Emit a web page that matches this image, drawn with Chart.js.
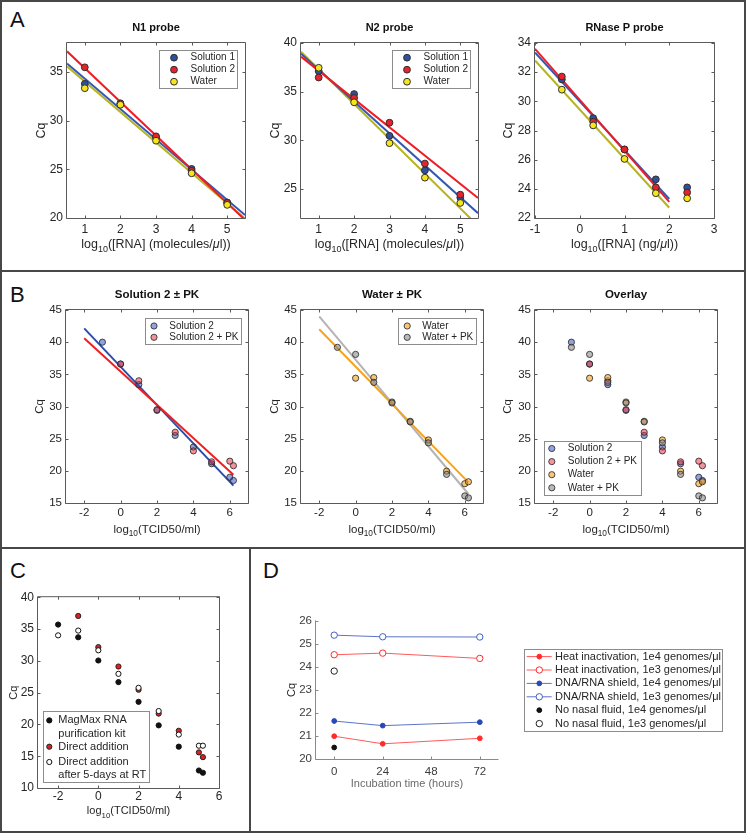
<!DOCTYPE html>
<html>
<head>
<meta charset="utf-8">
<title>Cq standard curves</title>
<script src="https://cdn.jsdelivr.net/npm/chart.js@4.4.1/dist/chart.umd.min.js"></script>
<style>
  body { margin: 0; background: #fff; }
  #fig { position: relative; width: 749px; height: 834px; overflow: hidden; background: #fff; }
  #fig canvas { position: absolute; }
  .rule { position: absolute; background: #474747; }
  .tag { position: absolute; font: 22px "Liberation Sans", Arial, sans-serif; color: #111; line-height: 1; }
</style>
</head>
<body>
<div id="fig">
  <div class="rule" style="left:0;top:0;width:746px;height:2px"></div>
  <div class="rule" style="left:0;top:0;width:2px;height:833px"></div>
  <div class="rule" style="left:744px;top:0;width:2px;height:833px"></div>
  <div class="rule" style="left:0;top:831px;width:746px;height:2px"></div>
  <div class="rule" style="left:0;top:270px;width:746px;height:2px"></div>
  <div class="rule" style="left:0;top:547px;width:746px;height:2px"></div>
  <div class="rule" style="left:249px;top:547px;width:2px;height:286px"></div>
  <div class="tag" style="left:10px;top:9px">A</div>
  <div class="tag" style="left:10px;top:284px">B</div>
  <div class="tag" style="left:10px;top:560px">C</div>
  <div class="tag" style="left:263px;top:560px">D</div>
</div>
<script>
const FONT = '"Liberation Sans", Arial, Helvetica, sans-serif';

// ---- Panel A: standard curves ----
const aX = [1, 2, 3, 4, 5];
const aTicksX = [1, 2, 3, 4, 5];
const n1TicksY = [20, 25, 30, 35];
const n1Sol1 = [33.8, 31.8, 28.3, 25.05, 21.6];
const n1Sol2 = [35.5, 31.75, 28.4, 24.85, 21.55];
const n1Water = [33.35, 31.65, 27.95, 24.6, 21.35];
const n2TicksY = [25, 30, 35, 40];
const n2Sol1 = [37.1, 34.75, 30.45, 26.9, 24.1];
const n2Sol2 = [36.45, 34.35, 31.8, 27.6, 24.4];
const n2Water = [37.45, 33.9, 29.7, 26.15, 23.55];
const rnpX = [-0.4, 0.3, 1, 1.7, 2.4];
const rnpTicksX = [-1, 0, 1, 2, 3];
const rnpTicksY = [22, 24, 26, 28, 30, 32, 34];
const rnpSol1 = [31.5, 28.85, 26.7, 24.65, 24.1];
const rnpSol2 = [31.7, 28.6, 26.7, 24.1, 23.75];
const rnpWater = [30.8, 28.35, 26.05, 23.7, 23.35];
// fitted lines, read at their two ends
const aFitX = [0.5, 5.5];
const n1FitSol1 = [35.9, 20.3];
const n1FitSol2 = [37.15, 19.8];
const n1FitWater = [35.6, 19.95];
const n2FitSol1 = [38.9, 22.5];
const n2FitSol2 = [38.6, 24.05];
const n2FitWater = [39.1, 21.2];
const rnpFitX = [-1, 2];
const rnpFitSol1 = [33.35, 23.3];
const rnpFitSol2 = [33.6, 23.1];
const rnpFitWater = [32.8, 22.7];

// ---- Panel B: proteinase K ----
const bX = [-1, 0, 1, 2, 3, 4, 5, 6, 6.2];
const bTicksX = [-2, 0, 2, 4, 6];
const bTicksY = [15, 20, 25, 30, 35, 40, 45];
const sol2 = [40.0, 36.6, 33.4, 29.4, 25.5, 23.7, 21.1, 19.0, 18.5];
const sol2PK = [null, 36.6, 34.0, 29.5, 26.0, 23.1, 21.4, 21.5, 20.8];
const water = [null, 34.4, 34.5, 30.7, 27.7, 24.8, 19.95, 18.0, 18.3];
const waterPK = [39.2, 38.1, 33.75, 30.55, 27.6, 24.35, 19.45, 16.1, 15.8];
const bFitX = [-2, 6.2];
const sol2Fit = [42.15, 17.7];
const sol2PKFit = [40.6, 19.4];
const waterFit = [42.0, 18.2];
const waterPKFit = [44.0, 16.4];

// ---- Panel C: extraction vs direct addition ----
const cX = [-2, -1, 0, 1, 2, 3, 4, 5, 5.2];
const cTicksX = [-2, 0, 2, 4, 6];
const cTicksY = [10, 15, 20, 25, 30, 35, 40];
const magmax = [35.7, 33.7, 30.05, 26.65, 23.55, 19.85, 16.5, 12.75, 12.4];
const direct = [null, 37.05, 32.15, 29.1, 25.45, 21.7, 19.0, 15.6, 14.85];
const direct5d = [34.0, 34.75, 31.65, 27.95, 25.75, 22.1, 18.4, 16.65, 16.65];

// ---- Panel D: incubation time ----
const dX = [0, 24, 72];
const dX0 = [0];
const dTicksX = [0, 24, 48, 72];
const dTicksY = [20, 21, 22, 23, 24, 25, 26];
const heat1e4 = [20.99, 20.66, 20.9];
const heat1e3 = [24.53, 24.6, 24.37];
const shield1e4 = [21.65, 21.45, 21.6];
const shield1e3 = [25.38, 25.31, 25.3];
const noNasal1e4 = [20.5];
const noNasal1e3 = [23.82];

const fig = document.getElementById('fig');

function pts(xs, ys) {
    return xs.map((x, i) => ({ x: x, y: ys[i] })).filter(p => p.y !== null);
}

function dots(label, xs, ys, fill, edge, r) {
    return {
        label: label, data: pts(xs, ys), showLine: false,
        backgroundColor: fill, borderColor: edge,
        pointBackgroundColor: fill, pointBorderColor: edge,
        pointRadius: r, pointBorderWidth: 1, pointHoverRadius: r
    };
}

function fit(xs, ys, color) {
    return {
        label: '', data: pts(xs, ys), showLine: true, borderColor: color,
        borderWidth: 2, pointRadius: 0, pointHoverRadius: 0, fill: false
    };
}

function series(label, xs, ys, color, fill, r, lineColor) {
    return {
        label: label, data: pts(xs, ys), showLine: !!lineColor,
        borderColor: lineColor || color, borderWidth: 1,
        pointBackgroundColor: fill, pointBorderColor: color,
        pointRadius: r, pointBorderWidth: 1, pointHoverRadius: r
    };
}

function marker(ctx, x, y, r, fill, edge, bw) {
    ctx.beginPath();
    ctx.arc(x, y, r, 0, Math.PI * 2);
    if (fill) { ctx.fillStyle = fill; ctx.fill(); }
    if (edge && bw) { ctx.lineWidth = bw; ctx.strokeStyle = edge; ctx.stroke(); }
}

// text in pieces: 'n' normal, 's' subscript, 'i' italic
function drawParts(ctx, parts, cx, cy, size, color) {
    const fontFor = st => (st === 'i' ? 'italic ' : '') + (st === 's' ? size * 0.72 : size) + 'px ' + FONT;
    let total = 0;
    parts.forEach(p => { ctx.font = fontFor(p[1]); total += ctx.measureText(p[0]).width; });
    let x = cx - total / 2;
    ctx.textAlign = 'left';
    ctx.textBaseline = 'middle';
    ctx.fillStyle = color;
    parts.forEach(p => {
        ctx.font = fontFor(p[1]);
        ctx.fillText(p[0], x, cy + (p[1] === 's' ? size * 0.4 : 0));
        x += ctx.measureText(p[0]).width;
    });
}

function drawLegend(chart, lg) {
    const ctx = chart.ctx, ca = chart.chartArea;
    const bx = lg.right !== undefined ? ca.right - lg.right - lg.w : ca.left + lg.left;
    const by = lg.bottom !== undefined ? ca.bottom - lg.bottom - lg.h : ca.top + lg.top;
    ctx.fillStyle = '#fff';
    ctx.fillRect(bx, by, lg.w, lg.h);
    ctx.strokeStyle = '#8c8c8c';
    ctx.lineWidth = 1;
    ctx.strokeRect(Math.round(bx) + 0.5, Math.round(by) + 0.5, Math.round(lg.w), Math.round(lg.h));
    lg.items.forEach((it, i) => {
        const ds = chart.data.datasets.find(d => d.label === it.label);
        const y = by + (it.dy !== undefined ? it.dy : lg.first + i * lg.pitch);
        if (it.line) {
            ctx.strokeStyle = ds.borderColor;
            ctx.lineWidth = ds.borderWidth;
            ctx.beginPath();
            ctx.moveTo(bx + lg.lx0, y);
            ctx.lineTo(bx + lg.lx1, y);
            ctx.stroke();
        }
        marker(ctx, bx + lg.mx, y, ds.pointRadius, ds.pointBackgroundColor, ds.pointBorderColor, ds.pointBorderWidth);
        ctx.font = lg.font + 'px ' + FONT;
        ctx.textAlign = 'left';
        ctx.textBaseline = 'middle';
        ctx.fillStyle = '#262626';
        [].concat(it.text || it.label).forEach((t, k) => ctx.fillText(t, bx + lg.tx, y + k * (it.lh || 0)));
    });
}

function decoPlugin(cfg) {
    return {
        id: 'deco',
        afterDraw(chart) {
            const ctx = chart.ctx, ca = chart.chartArea;
            const sx = chart.scales.x, sy = chart.scales.y;
            const L = ca.left - 0.5, R = ca.right + 0.5, T = ca.top - 0.5, B = ca.bottom + 0.5;
            const tl = 3;
            ctx.save();
            ctx.strokeStyle = cfg.axisColor || '#5a5a5a';
            ctx.lineWidth = 1;
            ctx.beginPath();
            if (cfg.box) {
                ctx.rect(L, T, R - L, B - T);
            } else {
                ctx.moveTo(L, T); ctx.lineTo(L, B); ctx.lineTo(R, B);
            }
            cfg.x.ticks.forEach(v => {
                const p = Math.round(sx.getPixelForValue(v)) + 0.5;
                ctx.moveTo(p, B); ctx.lineTo(p, B - tl);
                if (cfg.box) { ctx.moveTo(p, T); ctx.lineTo(p, T + tl); }
            });
            cfg.y.ticks.forEach(v => {
                const p = Math.round(sy.getPixelForValue(v)) + 0.5;
                ctx.moveTo(L, p); ctx.lineTo(L + tl, p);
                if (cfg.box) { ctx.moveTo(R, p); ctx.lineTo(R - tl, p); }
            });
            ctx.stroke();

            if (cfg.title) {
                ctx.font = 'bold ' + cfg.titleSize + 'px ' + FONT;
                ctx.fillStyle = '#111';
                ctx.textAlign = 'center';
                ctx.textBaseline = 'middle';
                ctx.fillText(cfg.title, (ca.left + ca.right) / 2, ca.top - cfg.titleDy);
            }
            drawParts(ctx, cfg.xTitle, (ca.left + ca.right) / 2, ca.bottom + cfg.xTitleDy, cfg.labelSize, cfg.xTitleColor || '#262626');
            ctx.save();
            ctx.translate(ca.left - cfg.yTitleDx, (ca.top + ca.bottom) / 2);
            ctx.rotate(-Math.PI / 2);
            drawParts(ctx, [['Cq', 'n']], 0, 0, cfg.labelSize, '#262626');
            ctx.restore();
            if (cfg.legend) drawLegend(chart, cfg.legend);
            ctx.restore();
        }
    };
}

function axis(a, size, which) {
    return {
        type: 'linear', min: a.min, max: a.max,
        grid: { display: false, drawTicks: false },
        border: { display: false },
        ticks: {
            font: { family: FONT, size: a.font }, color: a.color || '#262626',
            padding: a.pad, autoSkip: false, maxRotation: 0, minRotation: 0,
            callback: v => String(v)
        },
        afterBuildTicks: s => { s.ticks = a.ticks.map(v => ({ value: v })); },
        afterFit: s => { if (which === 'x') s.height = size; else s.width = size; }
    };
}

// area = [left, top, right, bottom] of the plotting box on the page
function makePlot(area, cfg) {
    const pad = Object.assign({ l: 40, t: 30, r: 12, b: 45 }, cfg.pad || {});
    const w = area[2] - area[0], h = area[3] - area[1];
    const cv = document.createElement('canvas');
    cv.width = w + pad.l + pad.r;
    cv.height = h + pad.t + pad.b;
    cv.style.left = (area[0] - pad.l) + 'px';
    cv.style.top = (area[1] - pad.t) + 'px';
    cv.style.width = cv.width + 'px';
    cv.style.height = cv.height + 'px';
    fig.appendChild(cv);
    // datasets are listed bottom first
    const n = cfg.datasets.length;
    const datasets = cfg.datasets.map((d, i) => Object.assign({ order: n - i }, d));
    new Chart(cv.getContext('2d'), {
        type: 'scatter',
        data: { datasets: datasets },
        options: {
            responsive: false,
            animation: false,
            events: [],
            layout: { autoPadding: false, padding: { top: pad.t, right: pad.r, left: 0, bottom: 0 } },
            plugins: { legend: { display: false }, tooltip: { enabled: false } },
            scales: { x: axis(cfg.x, pad.b, 'x'), y: axis(cfg.y, pad.l, 'y') }
        },
        plugins: [decoPlugin(cfg)]
    });
}

const EDGE = '#2e2e2e';
const A_BLUE = '#2f4f9f', A_RED = '#e8222b', A_YEL = '#f6e619';
const A_BLUE_LN = '#3358b4', A_RED_LN = '#ee1c25', A_OLIVE_LN = '#b7b322';
const A_R = 3.4, B_R = 3.1;
const xLabelMol = [['log', 'n'], ['10', 's'], ['([RNA] (molecules/', 'n'], ['\u03bc', 'i'], ['l))', 'n']];
const xLabelNg = [['log', 'n'], ['10', 's'], ['([RNA] (ng/', 'n'], ['\u03bc', 'i'], ['l))', 'n']];
const xLabelTcid = [['log', 'n'], ['10', 's'], ['(TCID50/ml)', 'n']];

const aLegend = {
    right: 8, top: 7, w: 78, h: 38, first: 7.7, pitch: 12, mx: 15, tx: 31.5, font: 10,
    items: [{ label: 'Solution 1' }, { label: 'Solution 2' }, { label: 'Water' }]
};

const aCommon = {
    box: true, titleSize: 11, titleDy: 15.4, labelSize: 12.5,
    xTitleDy: 26.7, yTitleDx: 25
};

makePlot([67, 43, 245, 218], Object.assign({}, aCommon, {
    title: 'N1 probe', xTitle: xLabelMol,
    x: { min: 0.5, max: 5.5, ticks: aTicksX, font: 12, pad: 4.5 },
    y: { min: 20, max: 38, ticks: n1TicksY, font: 12, pad: 4 },
    legend: aLegend,
    datasets: [
        fit(aFitX, n1FitWater, A_OLIVE_LN),
        fit(aFitX, n1FitSol1, A_BLUE_LN),
        fit(aFitX, n1FitSol2, A_RED_LN),
        dots('Solution 1', aX, n1Sol1, A_BLUE, EDGE, A_R),
        dots('Solution 2', aX, n1Sol2, A_RED, EDGE, A_R),
        dots('Water', aX, n1Water, A_YEL, EDGE, A_R)
    ]
}));

makePlot([301, 43, 478, 218], Object.assign({}, aCommon, {
    title: 'N2 probe', xTitle: xLabelMol,
    x: { min: 0.5, max: 5.5, ticks: aTicksX, font: 12, pad: 4.5 },
    y: { min: 22, max: 40, ticks: n2TicksY, font: 12, pad: 4 },
    legend: aLegend,
    datasets: [
        fit(aFitX, n2FitWater, A_OLIVE_LN),
        fit(aFitX, n2FitSol1, A_BLUE_LN),
        fit(aFitX, n2FitSol2, A_RED_LN),
        dots('Solution 1', aX, n2Sol1, A_BLUE, EDGE, A_R),
        dots('Solution 2', aX, n2Sol2, A_RED, EDGE, A_R),
        dots('Water', aX, n2Water, A_YEL, EDGE, A_R)
    ]
}));

makePlot([535, 43, 714, 218], Object.assign({}, aCommon, {
    title: 'RNase P probe', xTitle: xLabelNg, yTitleDx: 26.5,
    x: { min: -1, max: 3, ticks: rnpTicksX, font: 12, pad: 4.5 },
    y: { min: 22, max: 34, ticks: rnpTicksY, font: 12, pad: 4 },
    datasets: [
        fit(rnpFitX, rnpFitWater, A_OLIVE_LN),
        fit(rnpFitX, rnpFitSol1, A_BLUE_LN),
        fit(rnpFitX, rnpFitSol2, A_RED_LN),
        dots('Solution 1', rnpX, rnpSol1, A_BLUE, EDGE, A_R),
        dots('Solution 2', rnpX, rnpSol2, A_RED, EDGE, A_R),
        dots('Water', rnpX, rnpWater, A_YEL, EDGE, A_R)
    ]
}));

// panel B
const B_EDGE = 'rgba(45,45,45,0.85)';
const B_S2 = 'rgba(40,70,190,0.5)', B_S2PK = 'rgba(235,40,55,0.5)';
const B_W = 'rgba(245,160,30,0.6)', B_WPK = 'rgba(130,130,130,0.55)';
const B_S2_LN = '#2b4eaa', B_S2PK_LN = '#ee2020', B_W_LN = '#f5a31c', B_WPK_LN = '#b4b4b4';
const bCommon = {
    box: true, titleSize: 11.5, titleDy: 15, labelSize: 11.5,
    xTitleDy: 26.5, yTitleDx: 25.7, xTitle: xLabelTcid,
    x: { min: -3, max: 7, ticks: bTicksX, font: 11.5, pad: 3.4 },
    y: { min: 15, max: 45, ticks: bTicksY, font: 11.5, pad: 4 }
};

makePlot([66, 310, 248, 503], Object.assign({}, bCommon, {
    title: 'Solution 2 \u00b1 PK',
    legend: {
        right: 7.3, top: 7.7, w: 95.7, h: 25.6, first: 8.3, pitch: 11.3, mx: 9, tx: 24.3, font: 10,
        items: [{ label: 'Solution 2' }, { label: 'Solution 2 + PK' }]
    },
    datasets: [
        fit(bFitX, sol2Fit, B_S2_LN),
        fit(bFitX, sol2PKFit, B_S2PK_LN),
        dots('Solution 2', bX, sol2, B_S2, B_EDGE, B_R),
        dots('Solution 2 + PK', bX, sol2PK, B_S2PK, B_EDGE, B_R)
    ]
}));

makePlot([301, 310, 483, 503], Object.assign({}, bCommon, {
    title: 'Water \u00b1 PK',
    legend: {
        right: 6.8, top: 7.7, w: 78, h: 26.3, first: 8.3, pitch: 11.3, mx: 9, tx: 24, font: 10,
        items: [{ label: 'Water' }, { label: 'Water + PK' }]
    },
    datasets: [
        fit(bFitX, waterPKFit, B_WPK_LN),
        fit(bFitX, waterFit, B_W_LN),
        dots('Water', bX, water, B_W, B_EDGE, B_R),
        dots('Water + PK', bX, waterPK, B_WPK, B_EDGE, B_R)
    ]
}));

makePlot([535, 310, 717, 503], Object.assign({}, bCommon, {
    title: 'Overlay', yTitleDx: 27.5,
    legend: {
        left: 8.5, bottom: 7.5, w: 97, h: 54.3, first: 7.3, pitch: 13.1, mx: 8.3, tx: 24.3, font: 10,
        items: [{ label: 'Solution 2' }, { label: 'Solution 2 + PK' }, { label: 'Water' }, { label: 'Water + PK' }]
    },
    datasets: [
        dots('Solution 2', bX, sol2, B_S2, B_EDGE, B_R),
        dots('Solution 2 + PK', bX, sol2PK, B_S2PK, B_EDGE, B_R),
        dots('Water', bX, water, B_W, B_EDGE, B_R),
        dots('Water + PK', bX, waterPK, B_WPK, B_EDGE, B_R)
    ]
}));

// panel C
makePlot([38, 596, 219, 788], {
    box: true, labelSize: 11, xTitleDy: 23.4, yTitleDx: 24, xTitle: xLabelTcid,
    pad: { l: 36, t: 10, r: 12, b: 42 },
    x: { min: -3, max: 6, ticks: cTicksX, font: 12, pad: 1.8 },
    y: { min: 10, max: 40, ticks: cTicksY, font: 12, pad: 4 },
    legend: {
        left: 4.7, bottom: 5.6, w: 106.3, h: 71, mx: 6.6, tx: 15.6, font: 11,
        items: [
            { label: 'MagMax', text: ['MagMax RNA', 'purification kit'], dy: 9, lh: 14 },
            { label: 'Direct addition', dy: 35.3 },
            { label: 'Direct addition after 5-days at RT', text: ['Direct addition', 'after 5-days at RT'], dy: 50.6, lh: 12.7 }
        ]
    },
    datasets: [
        dots('MagMax', cX, magmax, '#111', '#111', 2.6),
        dots('Direct addition', cX, direct, '#e02020', '#222', 2.6),
        dots('Direct addition after 5-days at RT', cX, direct5d, '#fff', '#111', 2.6)
    ]
});

// panel D
const D_RED = '#ff2a2a', D_RED_LN = '#ff5a5a', D_BLUE = '#2a48b4', D_BLUE_LN = '#5a74c8', D_BLUE_O = '#3f62c4';
makePlot([316, 620, 498, 759], {
    box: false, axisColor: '#8a8a8a', labelSize: 11, xTitleDy: 25, yTitleDx: 24,
    xTitle: [['Incubation time (hours)', 'n']], xTitleColor: '#6a6a6a',
    pad: { l: 40, t: 10, r: 230, b: 40 },
    x: { min: -9, max: 81, ticks: dTicksX, font: 11.5, pad: 5.5, color: '#3c3c3c' },
    y: { min: 20, max: 26, ticks: dTicksY, font: 11.5, pad: 4, color: '#3c3c3c' },
    legend: {
        left: 208.3, top: 28.3, w: 198, h: 81.7, first: 7.4, pitch: 13.4, lx0: 2.4, lx1: 27.4, mx: 15, tx: 30.7, font: 11,
        items: [
            { label: 'Heat inactivation, 1e4 genomes/\u03bcl', line: true },
            { label: 'Heat inactivation, 1e3 genomes/\u03bcl', line: true },
            { label: 'DNA/RNA shield, 1e4 genomes/\u03bcl', line: true },
            { label: 'DNA/RNA shield, 1e3 genomes/\u03bcl', line: true },
            { label: 'No nasal fluid, 1e4 genomes/\u03bcl' },
            { label: 'No nasal fluid, 1e3 genomes/\u03bcl' }
        ]
    },
    datasets: [
        series('Heat inactivation, 1e4 genomes/\u03bcl', dX, heat1e4, D_RED, D_RED, 2.4, D_RED_LN),
        series('Heat inactivation, 1e3 genomes/\u03bcl', dX, heat1e3, D_RED, '#fff', 3.2, D_RED_LN),
        series('DNA/RNA shield, 1e4 genomes/\u03bcl', dX, shield1e4, D_BLUE, D_BLUE, 2.4, D_BLUE_LN),
        series('DNA/RNA shield, 1e3 genomes/\u03bcl', dX, shield1e3, D_BLUE_O, '#fff', 3.2, D_BLUE_LN),
        series('No nasal fluid, 1e4 genomes/\u03bcl', dX0, noNasal1e4, '#111', '#111', 2.4),
        series('No nasal fluid, 1e3 genomes/\u03bcl', dX0, noNasal1e3, '#222', '#fff', 3.2)
    ]
});
</script>
</body>
</html>
